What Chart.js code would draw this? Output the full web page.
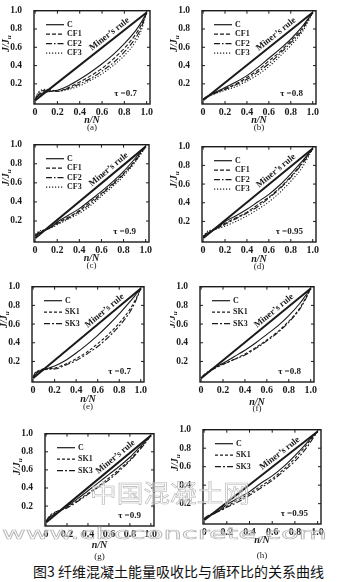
<!DOCTYPE html>
<html>
<head>
<meta charset="utf-8">
<script src="https://cdn.jsdelivr.net/npm/chart.js@4.4.1/dist/chart.umd.min.js"></script>
<style>
  body { margin: 0; background: #fff; }
  #fig { position: relative; width: 341px; height: 582px; overflow: hidden; background: #fff; }
  #fig canvas { position: absolute; }
  .lbl { position: absolute; transform: translate(-50%, -50%); font: 9px "Liberation Serif", serif; color: #1a1a1a; white-space: nowrap; line-height: 10px; }
  .xt { font: italic bold 10px "Liberation Serif", serif; }
  #caption { position: absolute; left: 33px; top: 561px; font: 14px "Noto Sans CJK SC", sans-serif; line-height: 20px; color: #111; white-space: nowrap; }
  #mark { position: absolute; left: 0; top: 0; pointer-events: none; }
</style>
</head>
<body>
<div id="fig">
  <div id="caption">图3 纤维混凝土能量吸收比与循环比的关系曲线</div>
</div>
<script>
// cycle ratio n/N, shared by all curves
const nN = [0, 0.02, 0.05, 0.1, 0.15, 0.2, 0.3, 0.4, 0.5, 0.6, 0.7, 0.8, 0.9, 0.95, 1.0];
const minerX = [0, 1];
const minerY = [0.02, 0.98];
const xTicks = [0, 0.2, 0.4, 0.6, 0.8, 1.0];
const yTicks = [0.2, 0.4, 0.6, 0.8, 1.0];

// (a) tau = 0.7
const a_C   = [0.02, 0.06, 0.09, 0.11, 0.12, 0.13, 0.18, 0.25, 0.33, 0.42, 0.52, 0.64, 0.78, 0.87, 0.98];
const a_CF1 = [0.02, 0.07, 0.10, 0.12, 0.12, 0.12, 0.16, 0.22, 0.29, 0.37, 0.47, 0.59, 0.74, 0.84, 0.98];
const a_CF2 = [0.02, 0.08, 0.12, 0.13, 0.13, 0.12, 0.15, 0.20, 0.26, 0.34, 0.43, 0.55, 0.70, 0.81, 0.98];
const a_CF3 = [0.02, 0.09, 0.13, 0.14, 0.13, 0.12, 0.14, 0.18, 0.24, 0.31, 0.40, 0.51, 0.66, 0.78, 0.98];
// (b) tau = 0.8
const b_C   = [0.03, 0.05, 0.07, 0.10, 0.13, 0.16, 0.22, 0.29, 0.38, 0.48, 0.58, 0.69, 0.82, 0.90, 0.98];
const b_CF1 = [0.03, 0.05, 0.07, 0.10, 0.12, 0.15, 0.20, 0.27, 0.35, 0.45, 0.55, 0.67, 0.80, 0.89, 0.98];
const b_CF2 = [0.03, 0.05, 0.07, 0.09, 0.12, 0.14, 0.19, 0.25, 0.33, 0.42, 0.53, 0.65, 0.78, 0.88, 0.98];
const b_CF3 = [0.03, 0.04, 0.06, 0.09, 0.11, 0.13, 0.17, 0.23, 0.30, 0.39, 0.50, 0.62, 0.76, 0.86, 0.98];
// (c) tau = 0.9
const c_C   = [0.04, 0.06, 0.08, 0.11, 0.14, 0.19, 0.26, 0.33, 0.42, 0.51, 0.61, 0.72, 0.85, 0.92, 0.98];
const c_CF1 = [0.04, 0.06, 0.08, 0.11, 0.14, 0.18, 0.24, 0.31, 0.40, 0.49, 0.59, 0.70, 0.83, 0.91, 0.98];
const c_CF2 = [0.05, 0.07, 0.09, 0.11, 0.14, 0.17, 0.23, 0.30, 0.38, 0.48, 0.58, 0.69, 0.82, 0.90, 0.98];
const c_CF3 = [0.06, 0.08, 0.10, 0.11, 0.13, 0.16, 0.22, 0.28, 0.36, 0.46, 0.56, 0.67, 0.81, 0.89, 0.98];
// (d) tau = 0.95
const d_C   = [0.03, 0.05, 0.07, 0.11, 0.15, 0.20, 0.26, 0.33, 0.41, 0.49, 0.59, 0.71, 0.84, 0.91, 0.98];
const d_CF1 = [0.03, 0.05, 0.08, 0.11, 0.14, 0.18, 0.24, 0.30, 0.38, 0.46, 0.56, 0.68, 0.82, 0.90, 0.98];
const d_CF2 = [0.04, 0.06, 0.09, 0.12, 0.14, 0.17, 0.23, 0.29, 0.36, 0.45, 0.55, 0.67, 0.81, 0.89, 0.98];
const d_CF3 = [0.04, 0.07, 0.10, 0.11, 0.13, 0.15, 0.20, 0.26, 0.33, 0.41, 0.51, 0.63, 0.77, 0.87, 0.98];
// (e) tau = 0.7, steel fibre
const e_C   = [0.03, 0.06, 0.09, 0.11, 0.13, 0.15, 0.21, 0.29, 0.38, 0.48, 0.59, 0.71, 0.84, 0.91, 0.98];
const e_SK1 = [0.03, 0.07, 0.10, 0.11, 0.12, 0.13, 0.17, 0.23, 0.30, 0.39, 0.49, 0.61, 0.76, 0.86, 0.98];
const e_SK3 = [0.03, 0.08, 0.10, 0.12, 0.12, 0.12, 0.16, 0.21, 0.28, 0.36, 0.46, 0.58, 0.73, 0.84, 0.98];
// (f) tau = 0.8
const f_C   = [0.02, 0.04, 0.07, 0.11, 0.15, 0.18, 0.25, 0.32, 0.40, 0.49, 0.58, 0.69, 0.82, 0.90, 0.98];
const f_SK1 = [0.02, 0.04, 0.07, 0.11, 0.14, 0.17, 0.22, 0.28, 0.35, 0.43, 0.52, 0.63, 0.77, 0.87, 0.98];
const f_SK3 = [0.02, 0.05, 0.08, 0.12, 0.15, 0.17, 0.22, 0.27, 0.34, 0.42, 0.51, 0.62, 0.76, 0.86, 0.98];
// (g) tau = 0.9
const g_C   = [0.03, 0.06, 0.09, 0.12, 0.16, 0.20, 0.28, 0.37, 0.46, 0.55, 0.64, 0.74, 0.86, 0.92, 0.98];
const g_SK1 = [0.03, 0.06, 0.10, 0.13, 0.16, 0.19, 0.26, 0.34, 0.42, 0.51, 0.61, 0.71, 0.84, 0.91, 0.98];
const g_SK3 = [0.03, 0.07, 0.11, 0.14, 0.16, 0.18, 0.25, 0.33, 0.41, 0.49, 0.59, 0.70, 0.83, 0.90, 0.98];
// (h) tau = 0.95
const h_C   = [0.03, 0.05, 0.07, 0.10, 0.14, 0.19, 0.26, 0.33, 0.42, 0.50, 0.60, 0.72, 0.85, 0.92, 0.98];
const h_SK1 = [0.03, 0.05, 0.07, 0.10, 0.13, 0.17, 0.24, 0.31, 0.39, 0.47, 0.57, 0.69, 0.83, 0.91, 0.98];
const h_SK3 = [0.04, 0.06, 0.08, 0.11, 0.13, 0.16, 0.22, 0.29, 0.37, 0.45, 0.55, 0.66, 0.80, 0.89, 0.98];

const cfNames = ['C', 'CF1', 'CF2', 'CF3'];
const skNames = ['C', 'SK1', 'SK3'];

const ink = '#1a1a1a';
const serif = '"Liberation Serif", serif';
const dashes = {
  C: [], CF1: [4, 2], CF2: [6, 2, 1.5, 2], CF3: [1.2, 1.8],
  SK1: [3, 2], SK3: [6, 2, 2, 2]
};

// frame = [left, top, right, bottom] of the plot box on the page
const panels = [
  { tag: '(a)', tau: '0.7',  names: cfNames, series: [a_C, a_CF1, a_CF2, a_CF3], frame: [34, 9, 150, 104],   titleY: 119, tagY: 127 },
  { tag: '(b)', tau: '0.8',  names: cfNames, series: [b_C, b_CF1, b_CF2, b_CF3], frame: [202, 9, 316, 104],  titleY: 119, tagY: 127 },
  { tag: '(c)', tau: '0.9',  names: cfNames, series: [c_C, c_CF1, c_CF2, c_CF3], frame: [34, 143, 149, 242], titleY: 257, tagY: 265 },
  { tag: '(d)', tau: '0.95', names: cfNames, series: [d_C, d_CF1, d_CF2, d_CF3], frame: [202, 145, 316, 242], titleY: 258, tagY: 266 },
  { tag: '(e)', tau: '0.7',  names: skNames, series: [e_C, e_SK1, e_SK3], frame: [32, 285, 144, 382],  titleY: 398, tagY: 406 },
  { tag: '(f)', tau: '0.8',  names: skNames, series: [f_C, f_SK1, f_SK3], frame: [200, 285, 314, 382], titleY: 401, tagY: 408 },
  { tag: '(g)', tau: '0.9',  names: skNames, series: [g_C, g_SK1, g_SK3], frame: [45, 432, 154, 526],  titleY: 544, tagY: 556 },
  { tag: '(h)', tau: '0.95', names: skNames, series: [h_C, h_SK1, h_SK3], frame: [203, 428, 321, 524], titleY: 539, tagY: 555 }
];

// box, inner ticks, legend and annotations drawn over each panel
const decor = {
  id: 'decor',
  afterDraw(chart, args, opts) {
    const { ctx, chartArea: a, scales: { x, y } } = chart;
    ctx.save();
    ctx.strokeStyle = ink;
    ctx.fillStyle = ink;
    ctx.lineWidth = 1.4;
    ctx.strokeRect(a.left, a.top, a.right - a.left, a.bottom - a.top);

    ctx.lineWidth = 1;
    xTicks.forEach(v => {
      const px = x.getPixelForValue(v);
      ctx.beginPath();
      ctx.moveTo(px, a.bottom); ctx.lineTo(px, a.bottom - 3);
      ctx.moveTo(px, a.top); ctx.lineTo(px, a.top + 3);
      ctx.stroke();
    });
    yTicks.forEach(v => {
      const py = y.getPixelForValue(v);
      ctx.beginPath();
      ctx.moveTo(a.left, py); ctx.lineTo(a.left + 3, py);
      ctx.moveTo(a.right, py); ctx.lineTo(a.right - 3, py);
      ctx.stroke();
    });

    // legend
    const step = opts.names.length === 4 ? 9.5 : 11.5;
    ctx.font = 'bold 8px ' + serif;
    ctx.textAlign = 'left';
    ctx.textBaseline = 'middle';
    opts.names.forEach((n, i) => {
      const ly = a.top + 14 + i * step;
      ctx.setLineDash(dashes[n]);
      ctx.lineWidth = 1.2;
      ctx.beginPath();
      ctx.moveTo(a.left + 12, ly); ctx.lineTo(a.left + 30, ly);
      ctx.stroke();
      ctx.setLineDash([]);
      ctx.fillText(n, a.left + 33, ly);
    });

    // Miner's rule label along the diagonal
    const x0 = x.getPixelForValue(minerX[0]), y0 = y.getPixelForValue(minerY[0]);
    const x1 = x.getPixelForValue(minerX[1]), y1 = y.getPixelForValue(minerY[1]);
    const ang = Math.atan2(y1 - y0, x1 - x0);
    const t = 0.7;
    const cx = x0 + (x1 - x0) * t + Math.sin(ang) * 6;
    const cy = y0 + (y1 - y0) * t - Math.cos(ang) * 6;
    ctx.save();
    ctx.translate(cx, cy);
    ctx.rotate(ang);
    ctx.font = 'bold 9px ' + serif;
    ctx.textAlign = 'center';
    ctx.fillText('Miner\u2019s rule', 0, 0);
    ctx.restore();

    // load level
    ctx.font = 'bold 9px ' + serif;
    ctx.textAlign = 'right';
    ctx.fillText('\u03c4 =' + opts.tau, a.right - 13, a.bottom - 10);

    // y axis title J/Ju
    ctx.save();
    ctx.translate(a.left - 28, a.top + 33);
    ctx.rotate(-Math.PI / 2);
    ctx.font = 'italic bold 10px ' + serif;
    const w1 = ctx.measureText('J/J').width;
    ctx.font = 'italic bold 7px ' + serif;
    const w2 = ctx.measureText('u').width;
    ctx.textAlign = 'left';
    ctx.textBaseline = 'middle';
    ctx.font = 'italic bold 10px ' + serif;
    ctx.fillText('J/J', -(w1 + w2) / 2, 0);
    ctx.font = 'italic bold 7px ' + serif;
    ctx.fillText('u', -(w1 + w2) / 2 + w1, 3);
    ctx.restore();

    ctx.restore();
  }
};

const fig = document.getElementById('fig');

function addLabel(text, cx, cy, cls) {
  const d = document.createElement('div');
  d.className = 'lbl' + (cls ? ' ' + cls : '');
  d.style.left = cx + 'px';
  d.style.top = cy + 'px';
  d.textContent = text;
  fig.appendChild(d);
}

panels.forEach(p => {
  const [L, T, R, B] = p.frame;
  const col = L < 170 ? 0 : 170;
  const cw = col === 0 ? 170 : 171;
  const top = T - 8;
  const height = B + 14 - top;

  const cv = document.createElement('canvas');
  cv.width = cw;
  cv.height = height;
  cv.style.left = col + 'px';
  cv.style.top = top + 'px';
  fig.appendChild(cv);

  const datasets = [{
    data: minerX.map((v, i) => ({ x: v, y: minerY[i] })),
    borderColor: ink, borderWidth: 2, pointRadius: 0, tension: 0
  }];
  p.series.forEach((s, k) => {
    datasets.push({
      data: nN.map((v, i) => ({ x: v, y: s[i] })),
      borderColor: ink, borderWidth: 1.1, borderDash: dashes[p.names[k]],
      pointRadius: 0, tension: 0.35, cubicInterpolationMode: 'monotone'
    });
  });

  new Chart(cv, {
    type: 'line',
    data: { datasets },
    options: {
      responsive: false,
      animation: false,
      events: [],
      layout: { padding: { top: 8, left: 0, right: col + cw - R, bottom: 0 } },
      scales: {
        x: {
          type: 'linear', min: -0.01, max: 1.03,
          grid: { display: false, drawTicks: false }, border: { display: false },
          afterBuildTicks: s => { s.ticks = xTicks.map(v => ({ value: v })); },
          afterFit: s => { s.height = 14; },
          ticks: {
            padding: 2, maxRotation: 0, autoSkip: false, color: ink,
            font: { family: serif, size: 10, weight: 'bold' },
            callback: v => v === 0 ? '0' : v.toFixed(1)
          }
        },
        y: {
          type: 'linear', min: -0.02, max: 1.0,
          grid: { display: false }, border: { display: false },
          afterBuildTicks: s => { s.ticks = yTicks.map(v => ({ value: v })); },
          afterFit: s => { s.width = L - col; },
          ticks: {
            padding: 4, autoSkip: false, color: ink,
            font: { family: serif, size: 9.5, weight: 'bold' },
            callback: v => v.toFixed(1)
          }
        }
      },
      plugins: {
        legend: { display: false },
        tooltip: { enabled: false },
        decor: { names: p.names, tau: p.tau }
      }
    },
    plugins: [decor]
  });

  addLabel('n/N', (L + R) / 2, p.titleY, 'xt');
  addLabel(p.tag, (L + R) / 2, p.tagY);
});

// site watermark, hollow lettering
const svgNS = 'http://www.w3.org/2000/svg';
const svg = document.createElementNS(svgNS, 'svg');
svg.setAttribute('id', 'mark');
svg.setAttribute('width', 341);
svg.setAttribute('height', 582);
[
  { s: '中国混凝土网', x: 90, y: 502, len: 160, size: 24, fam: '"Noto Sans CJK SC"' },
  { s: 'www.cbcconcrete.com', x: 2, y: 539, len: 325, size: 16, fam: '"DejaVu Sans"' }
].forEach(m => {
  const t = document.createElementNS(svgNS, 'text');
  t.setAttribute('x', m.x);
  t.setAttribute('y', m.y);
  t.setAttribute('textLength', m.len);
  t.setAttribute('lengthAdjust', 'spacingAndGlyphs');
  t.setAttribute('font-family', m.fam);
  t.setAttribute('font-size', m.size);
  t.setAttribute('fill', 'rgba(255,255,255,0.35)');
  t.setAttribute('stroke', '#b4b4b4');
  t.setAttribute('stroke-width', '0.6');
  t.textContent = m.s;
  svg.appendChild(t);
});
fig.appendChild(svg);
</script>
</body>
</html>
